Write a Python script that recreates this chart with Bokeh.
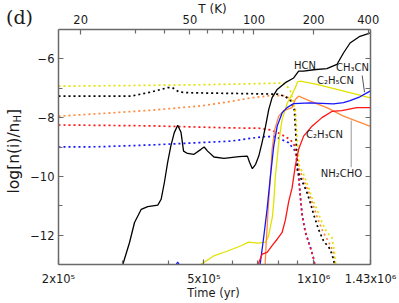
import math
import numpy as np
from bokeh.plotting import figure
from bokeh.models import Range1d, FixedTicker, LogAxis, LinearAxis, Label
from bokeh.embed import file_html
from bokeh.resources import INLINE

nan = np.nan
# ---------------- data ----------------
# bottom axis (time, yr)
time_major = [2e5, 5e5, 1e6, 1.43e6]
time_major_labels = ["2x10\u2075", "5x10\u2075", "1x10\u2076", "1.43x10\u2076"]
time_minor = [3e5, 4e5, 6e5, 7e5, 8e5, 9e5]
# top axis: temperature (K) and the time at which it is reached
temp_major = [20, 50, 100, 200, 400]
temp_major_time = [2.30e5, 4.58e5, 6.86e5, 9.99e5, 1.41e6]
temp_minor = [30, 40, 60, 70, 80, 90]
temp_minor_time = [3.24e5, 3.91e5, 5.13e5, 5.63e5, 6.03e5, 6.43e5]
# y axis
y_major = [-12, -10, -8, -6]
y_major_labels = ["\u221212", "\u221210", "\u22128", "\u22126"]
y_minor = [-11, -9, -7]
y_all = [-12, -11, -10, -9, -8, -7, -6]

# gas phase (solid)
hcn_t = [3.00e5, 3.13e5, 3.23e5, 3.37e5, 3.51e5, 3.74e5, 3.82e5, 3.90e5, 3.98e5, 4.06e5,
         4.15e5, 4.24e5, 4.33e5, 4.40e5, 4.51e5, 4.70e5, 4.91e5, 5.01e5, 5.12e5, 5.33e5,
         5.68e5, 6.24e5, 6.58e5, 6.67e5, 6.79e5, 6.93e5, 7.07e5, 7.22e5, 7.38e5, 7.53e5,
         7.69e5, 7.94e5, 8.36e5, 8.81e5, 9.09e5, 9.38e5, 9.99e5, 1.086e6, 1.157e6, 1.206e6,
         1.257e6, 1.338e6, 1.41e6, 1.43e6]
hcn_v = [-13.0, -12.25, -11.57, -11.12, -11.03, -10.98, -10.78, -10.20, -9.52, -8.97,
         -8.51, -8.26, -8.50, -9.14, -9.22, -9.25, -9.08, -9.00, -9.14, -9.34,
         -9.39, -9.33, -9.31, -9.52, -9.74, -9.59, -9.31, -8.84, -8.29, -7.72,
         -7.32, -7.04, -6.81, -6.65, -6.42, -6.42, -6.37, -6.33, -6.19, -5.80,
         -5.46, -5.23, -5.14, -5.11]

c2h5cn_t = [4.90e5, 5.32e5, 5.81e5, 6.30e5, 6.63e5, 7.02e5, 7.38e5, 7.52e5, 7.71e5, 7.78e5,
            7.85e5, 8.02e5, 8.19e5, 8.36e5, 8.45e5, 8.72e5, 8.90e5, 9.03e5, 9.19e5, 1.020e6,
            1.157e6, 1.311e6, 1.43e6]
c2h5cn_v = [-13.0, -12.71, -12.54, -12.37, -12.24, -12.27, -12.24, -12.03, -11.35, -10.78,
            -9.99, -8.85, -8.06, -7.72, -7.52, -7.21, -6.98, -6.78, -6.76, -6.87,
            -7.04, -7.21, -7.33]

nh2cho_t = [7.36e5, 7.41e5, 7.50e5, 7.61e5, 7.69e5, 7.82e5, 8.02e5, 8.27e5, 8.72e5, 8.90e5,
            9.09e5, 9.78e5, 1.086e6, 1.206e6, 1.338e6, 1.43e6]
nh2cho_v = [-13.0, -12.24, -11.12, -9.99, -9.08, -8.40, -7.95, -7.76, -7.66, -7.38,
            -7.27, -7.44, -7.66, -7.95, -8.16, -8.30]

ch3cn_t = [4.20e5, 4.24e5, 4.28e5, nan, 7.13e5, 7.30e5, 7.45e5, 7.61e5, 7.77e5, 7.94e5, 8.19e5,
           8.45e5, 8.81e5, 9.78e5, 1.132e6, 1.206e6, 1.257e6, 1.338e6, 1.43e6]
ch3cn_v = [-13.0, -12.92, -13.0, nan, -13.0, -12.03, -11.12, -9.99, -8.97, -8.29, -7.84,
           -7.66, -7.52, -7.50, -7.53, -7.49, -7.42, -7.29, -7.09]

c2h3cn_t = [7.05e5, 7.07e5, 7.22e5, 7.45e5, 7.69e5, 7.94e5, 8.19e5, 8.36e5, 8.54e5, 8.72e5,
            8.90e5, 9.09e5, 9.38e5, 9.89e5, 1.053e6, 1.121e6, 1.193e6, 1.311e6, 1.43e6]
c2h3cn_v = [-13.0, -12.94, -12.65, -12.59, -12.36, -12.14, -11.91, -11.49, -10.85, -10.40,
            -9.65, -9.08, -8.63, -8.29, -8.00, -7.79, -7.76, -7.66, -7.66]

# ice (dotted)
hcn_ice_t = [2.0e5, 3.16e5, 3.58e5, 3.98e5, 4.10e5, 4.28e5, 4.51e5, 4.91e5, 6.30e5, 7.95e5,
             8.36e5, 8.63e5, 8.85e5, 8.96e5, 9.02e5, 9.29e5, 9.58e5, 9.78e5, 9.99e5, 1.030e6,
             1.063e6, 1.109e6, 1.132e6, 1.140e6]
hcn_ice_v = [-7.27, -7.27, -7.13, -6.98, -6.98, -7.13, -7.15, -7.16, -7.18, -7.20,
             -7.28, -7.42, -7.75, -8.90, -9.80, -10.16, -10.55, -10.89, -11.29, -11.80,
             -12.19, -12.48, -12.82, -13.0]

c2h5cn_ice_t = [2.0e5, 3.58e5, 4.91e5, 6.71e5, 8.26e5, 8.47e5, 8.63e5, 8.79e5, 8.93e5, 9.04e5,
                9.13e5, 9.38e5, 9.68e5, 9.92e5, 1.020e6, 1.053e6, 1.086e6, 1.121e6, 1.137e6, 1.148e6]
c2h5cn_ice_v = [-6.93, -6.90, -6.88, -6.85, -6.82, -6.95, -7.10, -7.45, -8.00, -9.00,
                -9.65, -9.93, -10.38, -10.78, -11.12, -11.57, -11.91, -12.08, -12.50, -13.0]

nh2cho_ice_t = [2.0e5, 2.62e5, 3.58e5, 4.91e5, 5.92e5, 6.71e5, 7.61e5, 8.36e5, 8.68e5, 8.90e5,
                8.97e5, 9.13e5, 9.36e5, 9.66e5, 9.97e5, 1.029e6, 1.061e6, 1.095e6, 1.130e6, 1.144e6]
nh2cho_ice_v = [-7.95, -7.86, -7.75, -7.60, -7.45, -7.33, -7.25, -7.25, -7.40, -7.70,
                -9.30, -9.75, -10.10, -10.50, -11.00, -11.50, -11.90, -12.20, -12.55, -13.0]

c2h3cn_ice_t = [2.0e5, 3.58e5, 5.92e5, 7.06e5, 7.61e5, 8.10e5, 8.63e5, 8.85e5, 8.96e5, 9.09e5,
                9.19e5, 9.29e5, 9.48e5, 9.78e5, 9.99e5, 1.006e6]
c2h3cn_ice_v = [-8.25, -8.28, -8.35, -8.36, -8.42, -8.55, -8.75, -8.95, -9.30, -10.0,
                -10.7, -11.3, -11.9, -12.4, -12.8, -13.0]

ch3cn_ice_t = [2.0e5, 2.62e5, 3.58e5, 4.91e5, 5.92e5, 7.24e5, 7.85e5, 8.52e5, 8.90e5, 8.99e5,
               9.09e5, 9.19e5, 9.29e5, 9.48e5, 9.78e5, 9.99e5, 1.006e6]
ch3cn_ice_v = [-9.00, -8.99, -8.93, -8.85, -8.80, -8.65, -8.65, -8.85, -9.14, -9.50,
               -10.0, -10.7, -11.3, -11.9, -12.4, -12.8, -13.0]

BLACK = "#000000"
YELLOW = "#e2e200"
ORANGE = "#ff8a3d"
RED = "#ff1414"
BLUE = "#1414ff"
AXC = "#6a6a6a"
TXT = "#1a1a1a"
FONT = "DejaVu Sans"

# ---------------- layout: frame fills the canvas, axes are pinned to the data box --------
W, H = 399, 303
PX_L, PX_R, PX_T, PX_B = 58, 370, 29, 264
X0, X1, Y0, Y1 = time_major[0], time_major[-1], -13.0, -5.0
dpp = (math.log10(X1) - math.log10(X0)) / (PX_R - PX_L)
upp = (Y1 - Y0) / (PX_B - PX_T)
xr = Range1d(10 ** (math.log10(X0) - PX_L * dpp), 10 ** (math.log10(X1) + (W - PX_R) * dpp))
yr = Range1d(Y0 - (H - PX_B) * upp, Y1 + PX_T * upp)


def at(px, py):
    """canvas pixel -> data coordinates (for placing annotations)"""
    return 10 ** (math.log10(X0) + (px - PX_L) * dpp), Y0 + (PX_B - py) * upp


p = figure(width=W, height=H, x_axis_type="log", x_range=xr, y_range=yr,
           output_backend="svg", toolbar_location=None, min_border=0,
           min_border_left=0, min_border_right=0, min_border_top=0, min_border_bottom=0)
p.title.visible = False
p.grid.visible = False
p.outline_line_color = None
p.background_fill_color = "white"
p.border_fill_color = "white"


def style(ax, tick_in=5, minor_in=3):
    ax.axis_line_color = AXC
    ax.axis_line_width = 1.5
    ax.major_tick_line_color = AXC
    ax.minor_tick_line_color = AXC
    ax.major_tick_line_width = 1.2
    ax.minor_tick_line_width = 1.2
    ax.major_tick_in = tick_in
    ax.major_tick_out = 0
    ax.minor_tick_in = minor_in
    ax.minor_tick_out = 0
    ax.major_label_text_font = FONT
    ax.major_label_text_font_size = "11.5px"
    ax.major_label_text_color = TXT


bx = p.below[0]
style(bx, 5, 4)
bx.ticker = FixedTicker(ticks=time_major, minor_ticks=time_minor)
bx.major_label_overrides = {t: s for t, s in zip(time_major, time_major_labels)}
bx.major_label_standoff = 7
bx.fixed_location = Y0
bx.bounds = (X0, X1)

ly = p.left[0]
style(ly, 5, 4)
ly.ticker = FixedTicker(ticks=y_major, minor_ticks=y_minor)
ly.major_label_overrides = {t: s for t, s in zip(y_major, y_major_labels)}
ly.major_label_standoff = 4
ly.fixed_location = X0
ly.bounds = (Y0, Y1)

top = LogAxis(ticker=FixedTicker(ticks=temp_major_time, minor_ticks=temp_minor_time))
style(top, 5, 4)
top.major_label_overrides = {t: str(T) for t, T in zip(temp_major_time, temp_major)}
top.major_label_standoff = 6
top.fixed_location = Y1
top.bounds = (X0, X1)
p.add_layout(top, "above")

ry = LinearAxis(ticker=FixedTicker(ticks=y_all, minor_ticks=[]))
style(ry, 5, 0)
ry.major_label_text_color = None
ry.major_label_standoff = 0
ry.fixed_location = X1
ry.bounds = (Y0, Y1)
p.add_layout(ry, "right")

# ---------------- curves ----------------
dash = "2 3"
for t, v, c in [(ch3cn_ice_t, ch3cn_ice_v, BLUE),
                (c2h3cn_ice_t, c2h3cn_ice_v, RED),
                (nh2cho_ice_t, nh2cho_ice_v, ORANGE),
                (hcn_ice_t, hcn_ice_v, BLACK),
                (c2h5cn_ice_t, c2h5cn_ice_v, YELLOW)]:
    p.line(np.array(t), np.array(v), line_color=c, line_width=1.7, line_dash=dash)

for t, v, c in [(hcn_t, hcn_v, BLACK),
                (c2h5cn_t, c2h5cn_v, YELLOW),
                (nh2cho_t, nh2cho_v, ORANGE),
                (ch3cn_t, ch3cn_v, BLUE),
                (c2h3cn_t, c2h3cn_v, RED)]:
    p.line(np.array(t), np.array(v), line_color=c, line_width=1.3)

# leader lines (annotation)
a0, a1 = at(361.7, 75), at(364, 91.7)
b0, b1 = at(350.7, 120), at(350.7, 166.7)
p.segment(x0=[a0[0], b0[0]], y0=[a0[1], b0[1]], x1=[a1[0], b1[0]], y1=[a1[1], b1[1]],
          line_color=["#555555", "#999999"], line_width=1.0)

# ---------------- labels ----------------
def label(px, py, txt, size, font=FONT, align="center", angle=0.0):
    x, y = at(px, py)
    p.add_layout(Label(x=x, y=y, text=txt, text_font=font, text_font_size=size, angle=angle,
                       text_align=align, text_baseline="middle", text_color=TXT))


label(304.5, 65, "HCN", "10px")
label(352, 67, "CH\u2083CN", "10px")
label(335, 80, "C\u2082H\u2085CN", "10px")
label(324, 134, "C\u2082H\u2083CN", "10px")
label(341, 173, "NH\u2082CHO", "10px")

label(213, 292, "Time (yr)", "11.5px")
label(212, 8.5, "T (K)", "12px")
label(19, 16, "(d)", "19px", font="DejaVu Serif")

ang = math.pi / 2
label(13, 193, "log[n(i)/n", "15.5px", align="left", angle=ang)
label(17, 121.9, "H", "10px", align="left", angle=ang)
label(13, 114.4, "]", "15.5px", align="left", angle=ang)

open("out.html", "w").write(file_html(p, INLINE))
